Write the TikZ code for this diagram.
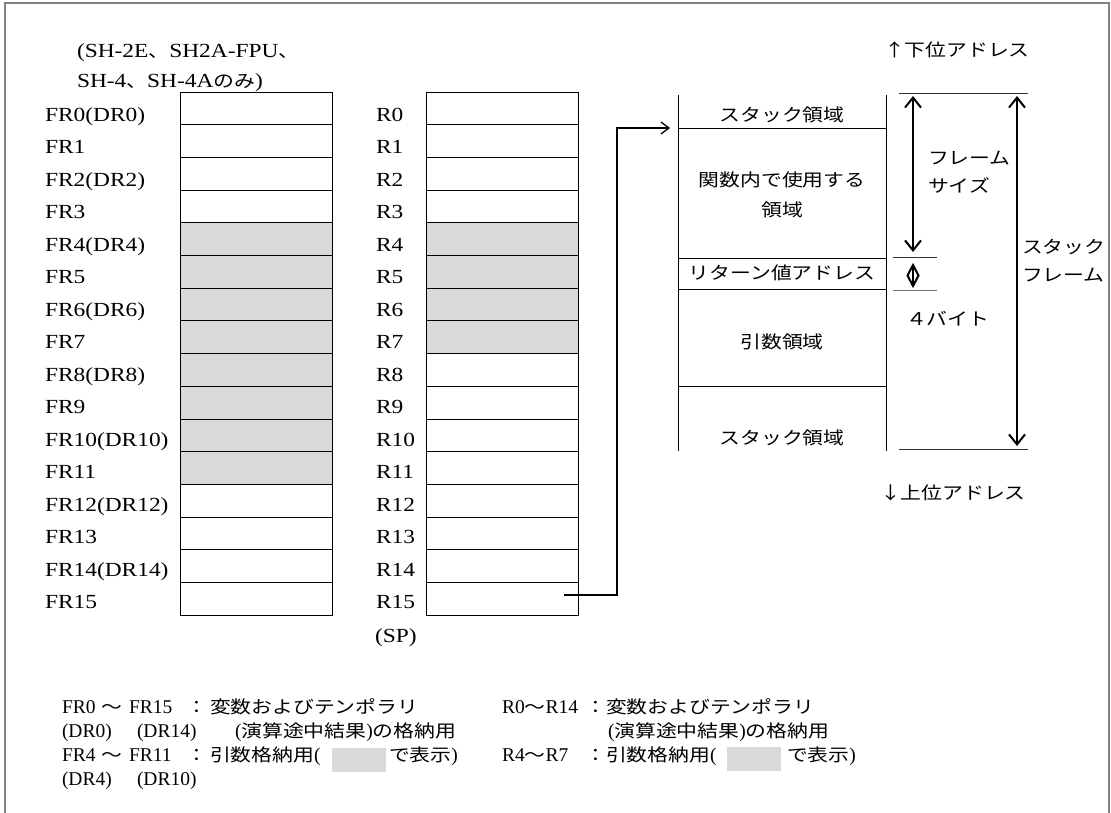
\documentclass[tikz,border=0pt]{standalone}
\usepackage{fontspec}
\setmainfont[FakeStretch=1.17]{Liberation Serif}
\newfontfamily\legfont{Liberation Serif}
\newfontfamily\jpfont[FakeStretch=1.19]{Noto Sans CJK JP}
\usetikzlibrary{arrows.meta}
\newcommand{\J}[1]{{\fontsize{17.5}{21}\selectfont\jpfont #1}}
\definecolor{argray}{RGB}{217,217,217}
\definecolor{framegray}{RGB}{130,130,130}
\begin{document}
\begin{tikzpicture}[x=1pt,y=-1pt,
  every node/.style={inner sep=0pt, outer sep=0pt},
  lat/.style={font=\fontsize{20}{24}\selectfont, anchor=base west},
  leg/.style={font=\fontsize{19.5}{23}\selectfont\legfont, anchor=base west},
  jpn/.style={font=\fontsize{17.5}{21}\selectfont\jpfont},
  cell/.style={draw, line width=0.9pt, minimum width=152pt, minimum height=32.7pt},
  argcell/.style={cell, fill=argray},
  sep/.style={line width=0.9pt},
  bigarrow/.style={line width=2pt, {Straight Barb[length=10pt,width=16pt]}-{Straight Barb[length=10pt,width=16pt]}},
  ptr/.style={line width=1.3pt, -{Straight Barb[length=8pt,width=12pt]}}
]
\useasboundingbox (0,0) rectangle (1111,812);
% outer frame
\draw[framegray, line width=1.5pt] (5,830) -- (5,3) -- (1109,3) -- (1109,830);

% header
\node[lat] (hd1) at (77,57) {(SH-2E\J{、}SH2A-FPU\J{、}};
\node[lat] (hd2) at (77,87) {SH-4\J{、}SH-4A\J{のみ})};

% register cells
\foreach \i in {0,1,2,3,12,13,14,15} {
  \node[cell] (f\i) at (256,{92+32.7*(\i+0.5)}) {};
}
\foreach \i in {4,...,11} {
  \node[argcell] (f\i) at (256,{92+32.7*(\i+0.5)}) {};
}
\foreach \i in {0,1,2,3,8,9,10,11,12,13,14,15} {
  \node[cell] (r\i) at (502,{92+32.7*(\i+0.5)}) {};
}
\foreach \i in {4,...,7} {
  \node[argcell] (r\i) at (502,{92+32.7*(\i+0.5)}) {};
}

% register labels
\foreach \i/\t in {0/FR0(DR0),1/FR1,2/FR2(DR2),3/FR3,4/FR4(DR4),5/FR5,6/FR6(DR6),7/FR7,
  8/FR8(DR8),9/FR9,10/FR10(DR10),11/FR11,12/FR12(DR12),13/FR13,14/FR14(DR14),15/FR15} {
  \node[lat] (lf\i) at (45,{121+32.5*\i}) {\t};
}
\foreach \i in {0,...,15} {
  \node[lat] (lr\i) at (376,{121+32.5*\i}) {R\i};
}
\node[lat] (sp) at (375,642) {(SP)};

% pointer arrow from R15 to the stack
\coordinate (ps) at (564,595);
\coordinate (pb) at (617,595);
\coordinate (pt) at (670,128);
\draw[ptr] (ps) -- (pb) |- (pt);

% stack frame
\draw[sep] (678,95) -- (678,451);
\draw[sep] (886,95) -- (886,451);
\foreach \y in {128,258,289,386} {
  \draw[sep] (678,\y) -- (886,\y);
}
\node[jpn] (s1) at (782,115) {スタック領域};
\node[jpn] (s2a) at (782,180) {関数内で使用する};
\node[jpn] (s2b) at (782,210) {領域};
\node[jpn] (s3) at (782,273) {リターン値アドレス};
\node[jpn] (s4) at (782,342) {引数領域};
\node[jpn] (s5) at (782,438) {スタック領域};

% dimension lines
\draw[line width=1pt, black!80] (899,93) -- (1028,93);
\draw[line width=1pt, black!80] (899,449) -- (1028,449);
\draw[line width=1pt, black!80] (893,257) -- (937,257);
\draw[line width=1pt, black!55] (893,290) -- (937,290);
\coordinate (fa) at (913,96);
\coordinate (fb) at (913,252);
\draw[bigarrow] (fa) -- (fb);
\coordinate (sa) at (1017,96);
\coordinate (sb) at (1017,446);
\draw[bigarrow] (sa) -- (sb);
\draw[line width=2pt, line join=miter] (913,265) -- (918.5,275.5) -- (913,286) -- (907.5,275.5) -- cycle;
\draw[line width=1.6pt] (913,265) -- (913,286);

\node[jpn, anchor=west] (fs1) at (928,158) {フレーム};
\node[jpn, anchor=west] (fs2) at (928,185) {サイズ};
\node[jpn, anchor=west] (sf1) at (1022,247) {スタック};
\node[jpn, anchor=west] (sf2) at (1022,275) {フレーム};
\node[jpn, anchor=west] (b4) at (906,319) {４バイト};
\node[jpn, anchor=west] (lo) at (884,50) {↑下位アドレス};
\node[jpn, anchor=west] (hi) at (880,493) {↓上位アドレス};

% legend (left)
\node[leg] (l1a) at (62,713) {FR0};
\node[leg] (l1b) at (101,713) {\J{～}};
\node[leg] (l1c) at (129,713) {FR15};
\node[leg] (l1d) at (186,713) {\J{：}};
\node[leg] (l1e) at (210,713) {\J{変数およびテンポラリ}};
\node[leg] (l2a) at (62,737) {(DR0)};
\node[leg] (l2b) at (137,737) {(DR14)};
\node[leg] (l2c) at (235,737) {(\J{演算途中結果})\J{の格納用}};
\node[leg] (l3a) at (62,761) {FR4};
\node[leg] (l3b) at (101,761) {\J{～}};
\node[leg] (l3c) at (129,761) {FR11};
\node[leg] (l3d) at (186,761) {\J{：}};
\node[leg] (l3e) at (210,761) {\J{引数格納用}(};
\fill[argray] (332,748) rectangle (386,772);
\node[leg] (l3f) at (389,761) {\J{で表示})};
\node[leg] (l4a) at (62,785) {(DR4)};
\node[leg] (l4b) at (137,785) {(DR10)};

% legend (right)
\node[leg] (m1a) at (502,713) {R0\J{～}R14};
\node[leg] (m1b) at (585,713) {\J{：}};
\node[leg] (m1c) at (606,713) {\J{変数およびテンポラリ}};
\node[leg] (m2) at (608,737) {(\J{演算途中結果})\J{の格納用}};
\node[leg] (m3a) at (502,761) {R4\J{～}R7};
\node[leg] (m3b) at (585,761) {\J{：}};
\node[leg] (m3c) at (606,761) {\J{引数格納用}(};
\fill[argray] (727,747) rectangle (781,771);
\node[leg] (m3d) at (787,761) {\J{で表示})};
\end{tikzpicture}
\end{document}
